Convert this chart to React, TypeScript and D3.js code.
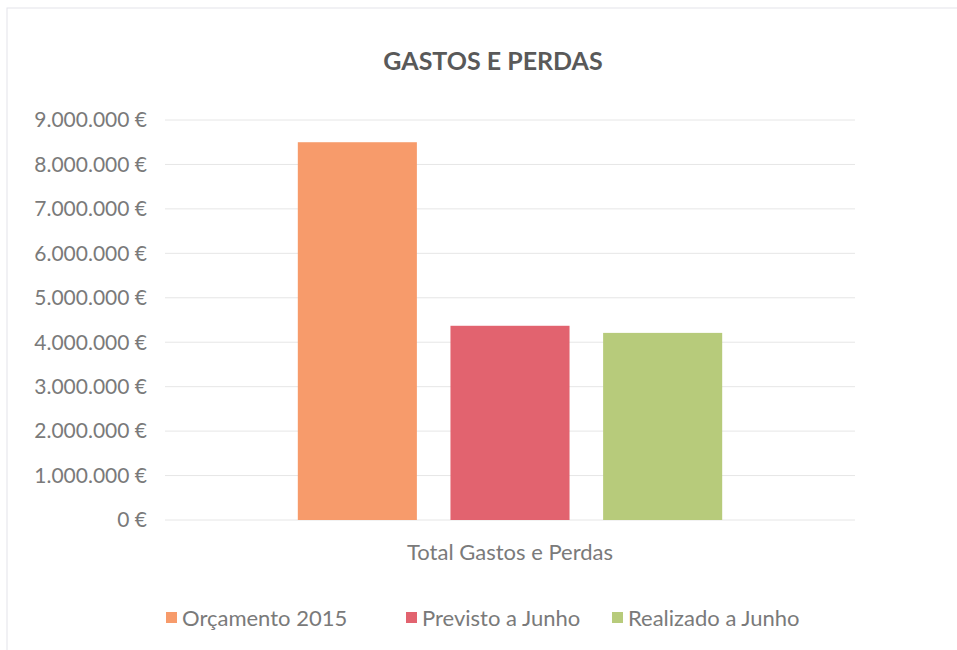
import * as d3 from "d3";
import { useEffect, useRef } from "react";

const categories = ["Total Gastos e Perdas"];
const seriesNames = ["Orçamento 2015", "Previsto a Junho", "Realizado a Junho"];
const seriesValues = [8500000, 4370000, 4210000];
const seriesColors = ["#F79B6B", "#E2636F", "#B7CB7B"];
const yTicks = [0, 1000000, 2000000, 3000000, 4000000, 5000000, 6000000, 7000000, 8000000, 9000000];

const fmt = (v: number) => d3.format(",")(v).replace(/,/g, ".") + " €";

export default function App() {
    const ref = useRef<SVGSVGElement | null>(null);

    useEffect(() => {
        if (!ref.current) return;
        const width = 957;
        const height = 650;
        const plot = { left: 165, right: 855, top: 120, bottom: 520 };
        const font = "Lato, 'Open Sans', sans-serif";
        const textColor = "#7a7a7a";

        const svg = d3.select(ref.current);
        svg.selectAll("*").remove();

        svg.append("rect").attr("width", width).attr("height", height).attr("fill", "#fff");
        // chart border
        svg.append("rect")
            .attr("x", 7).attr("y", 8)
            .attr("width", width + 20).attr("height", height)
            .attr("fill", "none").attr("stroke", "#e3e3ea");

        const x = d3.scaleBand().domain(categories).range([plot.left, plot.right]);
        const xInner = d3.scaleBand().domain(seriesNames)
            .range([0, x.bandwidth()]).paddingInner(0.22).paddingOuter(0.87);
        const y = d3.scaleLinear().domain([0, 9000000]).range([plot.bottom, plot.top]);

        // gridlines
        svg.append("g").selectAll("line").data(yTicks).join("line")
            .attr("x1", plot.left).attr("x2", plot.right)
            .attr("y1", (d) => y(d)).attr("y2", (d) => y(d))
            .attr("stroke", "#e6e6e6").attr("stroke-width", 1);

        // y labels
        svg.append("g").selectAll("text").data(yTicks).join("text")
            .attr("x", 147).attr("y", (d) => y(d))
            .attr("dy", "0.35em").attr("text-anchor", "end")
            .attr("font-family", font).attr("font-size", 21)
            .attr("fill", textColor).text((d) => fmt(d));

        // bars
        svg.append("g").selectAll("rect").data(seriesValues).join("rect")
            .attr("x", (_, i) => x(categories[0])! + xInner(seriesNames[i])!)
            .attr("y", (d) => y(d))
            .attr("width", xInner.bandwidth())
            .attr("height", (d) => y(0) - y(d))
            .attr("fill", (_, i) => seriesColors[i]);

        // x category label
        svg.append("text")
            .attr("x", x(categories[0])! + x.bandwidth() / 2).attr("y", 560)
            .attr("text-anchor", "middle").attr("font-family", font)
            .attr("font-size", 22).attr("fill", textColor).text(categories[0]);

        // title
        svg.append("text")
            .attr("x", 493).attr("y", 70).attr("text-anchor", "middle")
            .attr("font-family", font).attr("font-size", 25).attr("font-weight", "bold")
            .attr("fill", "#595959").text("GASTOS E PERDAS");

        // legend
        const legendX = [166, 406, 612];
        const lg = svg.append("g").selectAll("g").data(seriesNames).join("g")
            .attr("transform", (_, i) => `translate(${legendX[i]},618)`);
        lg.append("rect").attr("x", 0).attr("y", -6).attr("width", 11).attr("height", 11)
            .attr("fill", (_, i) => seriesColors[i]);
        lg.append("text").attr("x", 16).attr("dy", "0.35em")
            .attr("font-family", font).attr("font-size", 22)
            .attr("fill", textColor).text((d) => d);
    }, []);

    return (
        <svg ref={ref} width={957} height={650}
            style={{ position: "absolute", left: 0, top: 0, display: "block" }} />
    );
}
